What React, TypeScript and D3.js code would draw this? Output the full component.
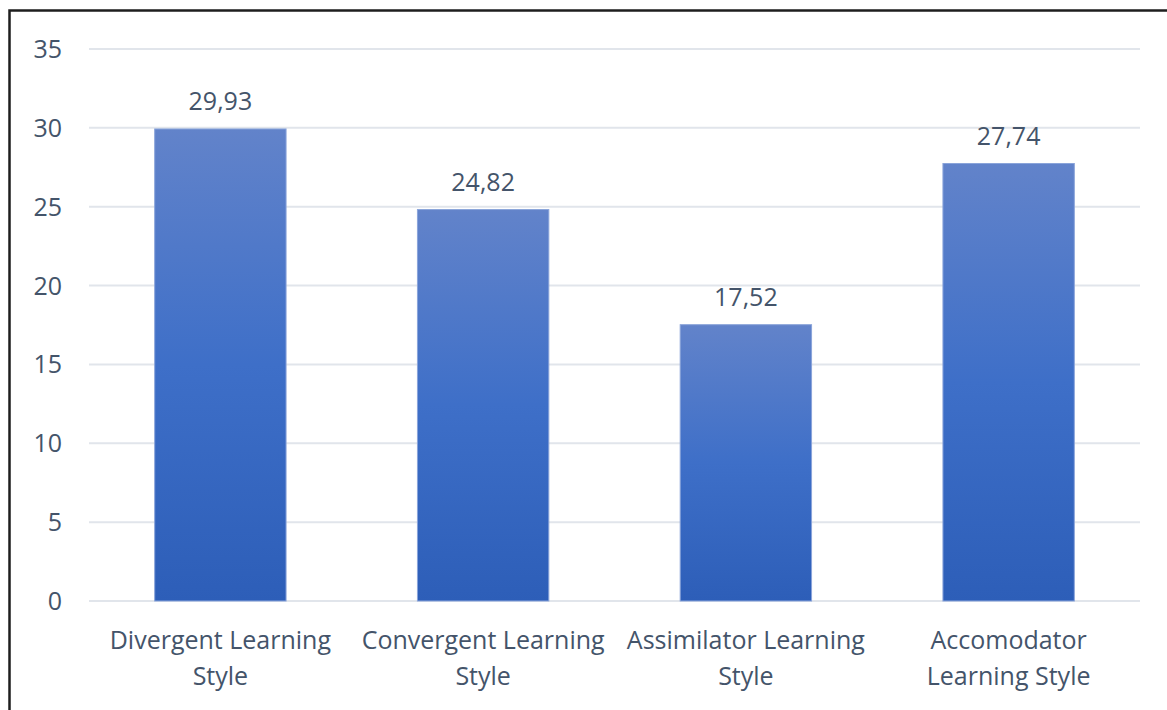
import React, { useEffect, useRef } from "react";
import * as d3 from "d3";

const categories = [
  ["Divergent Learning", "Style"],
  ["Convergent Learning", "Style"],
  ["Assimilator Learning", "Style"],
  ["Accomodator", "Learning Style"],
];
const values = [29.93, 24.82, 17.52, 27.74];
const valueLabels = ["29,93", "24,82", "17,52", "27,74"];
const yTicks = [0, 5, 10, 15, 20, 25, 30, 35];

export default function App() {
  const ref = useRef<SVGSVGElement>(null);

  useEffect(() => {
    document.body.style.margin = "0";
    const svg = d3.select(ref.current);
    svg.selectAll("*").remove();

    const W = 1167,
      H = 710;
    const left = 89,
      right = 1140,
      top = 49,
      bottom = 601;
    const font = "'Open Sans', sans-serif";
    const textColor = "#44546a";

    const keys = categories.map((c) => c.join(" "));
    const x = d3.scaleBand().domain(keys).range([left, right]).paddingInner(0.5).paddingOuter(0.25);
    const y = d3.scaleLinear().domain([0, 35]).range([bottom, top]);

    svg.append("rect").attr("width", W).attr("height", H).attr("fill", "#fff");

    const defs = svg.append("defs");
    const grad = defs
      .append("linearGradient")
      .attr("id", "barGrad")
      .attr("x1", 0)
      .attr("y1", 0)
      .attr("x2", 0)
      .attr("y2", 1);
    grad.append("stop").attr("offset", "0%").attr("stop-color", "#6283ca");
    grad.append("stop").attr("offset", "50%").attr("stop-color", "#3e6fc8");
    grad.append("stop").attr("offset", "100%").attr("stop-color", "#2d5eb8");

    // gridlines
    svg
      .append("g")
      .selectAll("line")
      .data(yTicks)
      .enter()
      .append("line")
      .attr("x1", left)
      .attr("x2", right)
      .attr("y1", (d) => y(d))
      .attr("y2", (d) => y(d))
      .attr("stroke", "#e1e5eb")
      .attr("stroke-width", 2);

    // y tick labels
    svg
      .append("g")
      .selectAll("text")
      .data(yTicks)
      .enter()
      .append("text")
      .attr("x", 62)
      .attr("y", (d) => y(d))
      .attr("dy", "0.36em")
      .attr("text-anchor", "end")
      .attr("font-family", font)
      .attr("font-size", "25px")
      .attr("fill", textColor)
      .text((d) => d);

    // bars
    svg
      .append("g")
      .selectAll("rect")
      .data(values)
      .enter()
      .append("rect")
      .attr("x", (d, i) => x(keys[i])!)
      .attr("y", (d) => y(d))
      .attr("width", x.bandwidth())
      .attr("height", (d) => bottom - y(d))
      .attr("fill", "url(#barGrad)")
      .attr("stroke", "#8aa4da")
      .attr("stroke-width", 1);

    // value labels
    svg
      .append("g")
      .selectAll("text")
      .data(values)
      .enter()
      .append("text")
      .attr("x", (d, i) => x(keys[i])! + x.bandwidth() / 2)
      .attr("y", (d) => y(d) - 19)
      .attr("text-anchor", "middle")
      .attr("font-family", font)
      .attr("font-size", "25px")
      .attr("fill", textColor)
      .text((d, i) => valueLabels[i]);

    // category labels
    const cat = svg
      .append("g")
      .selectAll("text")
      .data(categories)
      .enter()
      .append("text")
      .attr("text-anchor", "middle")
      .attr("font-family", font)
      .attr("font-size", "25px")
      .attr("fill", textColor);
    cat.each(function (lines, i) {
      const cx = x(keys[i])! + x.bandwidth() / 2;
      lines.forEach((line, j) => {
        d3.select(this)
          .append("tspan")
          .attr("x", cx)
          .attr("y", 649 + j * 36)
          .text(line);
      });
    });

    // frame
    svg
      .append("rect")
      .attr("x", 9.5)
      .attr("y", 10.5)
      .attr("width", W + 20)
      .attr("height", H + 20)
      .attr("fill", "none")
      .attr("stroke", "#1e1e1e")
      .attr("stroke-width", 2.5);
  }, []);

  return (
    <svg
      ref={ref}
      width={1167}
      height={710}
      style={{ display: "block", position: "absolute", left: 0, top: 0 }}
    />
  );
}
